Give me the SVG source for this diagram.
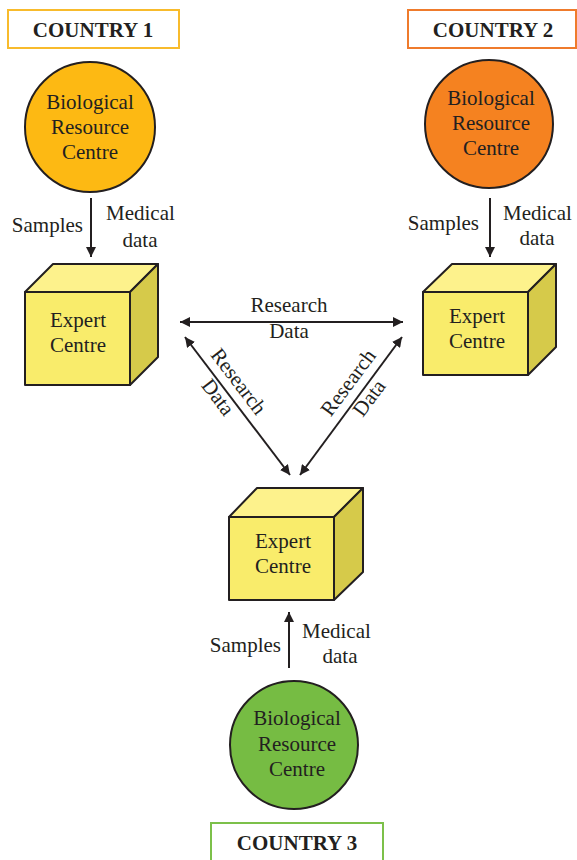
<svg xmlns="http://www.w3.org/2000/svg" width="577" height="860" viewBox="0 0 577 860">
<defs>
<marker id="ah" viewBox="0 0 10 10" refX="10" refY="5" markerWidth="10" markerHeight="10" markerUnits="userSpaceOnUse" orient="auto-start-reverse">
<path d="M0,0 L10,5 L0,10 z" fill="#231f20"/>
</marker>
<style>
text{font-family:"Liberation Serif","Times New Roman",serif;font-size:21px;fill:#231f20}
.c{text-anchor:middle}
.e{text-anchor:end}
.b{font-weight:bold;font-size:21px}
.circ{stroke:#231f20;stroke-width:2}
.front{fill:#f9ec6b;stroke:#231f20;stroke-width:2;stroke-linejoin:round}
.top{fill:#fdf28c;stroke:#231f20;stroke-width:2;stroke-linejoin:round}
.side{fill:#d6ca4a;stroke:#231f20;stroke-width:2;stroke-linejoin:round}
.lbl{fill:#fff;stroke-width:2}
.conn line{stroke:#231f20;stroke-width:2}
</style>
</defs>
<rect width="577" height="860" fill="#fff"/>

<g id="country1"><rect class="lbl" x="8" y="10" width="171" height="38" stroke="#f8bb2c"/><text class="c b" x="93" y="37">COUNTRY 1</text></g>
<g id="country2"><rect class="lbl" x="408" y="10" width="168" height="38" stroke="#ef7b2c"/><text class="c b" x="493" y="37">COUNTRY 2</text></g>
<g id="country3"><rect class="lbl" x="211" y="823" width="172" height="42" stroke="#7cc04a"/><text class="c b" x="297" y="850">COUNTRY 3</text></g>

<g id="brc1"><circle class="circ" cx="90" cy="127" r="65" fill="#fdb913"/>
<text class="c" x="90" y="109">Biological</text><text class="c" x="90" y="134">Resource</text><text class="c" x="90" y="159">Centre</text></g>
<g id="brc2"><circle class="circ" cx="489" cy="124" r="64" fill="#f58220"/>
<text class="c" x="491" y="105">Biological</text><text class="c" x="491" y="130">Resource</text><text class="c" x="491" y="155">Centre</text></g>
<g id="brc3"><circle class="circ" cx="294" cy="745" r="64" fill="#76bc43"/>
<text class="c" x="297" y="725">Biological</text><text class="c" x="297" y="751">Resource</text><text class="c" x="297" y="776">Centre</text></g>

<g id="ec1">
<path class="top" d="M25,292 L53,264 L158,264 L130,292 Z"/>
<path class="side" d="M130,292 L158,264 L158,357 L130,385 Z"/>
<rect class="front" x="25" y="292" width="105" height="93"/>
<text class="c" x="78" y="327">Expert</text><text class="c" x="78" y="352">Centre</text></g>
<g id="ec2">
<path class="top" d="M423,292 L452,264 L556,264 L528,292 Z"/>
<path class="side" d="M528,292 L556,264 L556,347 L528,375 Z"/>
<rect class="front" x="423" y="292" width="105" height="83"/>
<text class="c" x="477" y="323">Expert</text><text class="c" x="477" y="348">Centre</text></g>
<g id="ec3">
<path class="top" d="M229,517 L257,488 L363,488 L334,517 Z"/>
<path class="side" d="M334,517 L363,488 L363,572 L334,600 Z"/>
<rect class="front" x="229" y="517" width="105" height="83"/>
<text class="c" x="283" y="548">Expert</text><text class="c" x="283" y="573">Centre</text></g>

<g class="conn" id="connectors">
<line x1="91" y1="198" x2="91" y2="257" marker-end="url(#ah)"/>
<line x1="490" y1="198" x2="490" y2="257" marker-end="url(#ah)"/>
<line x1="289" y1="668" x2="289" y2="612" marker-end="url(#ah)"/>
<line x1="180" y1="322" x2="403" y2="322" marker-start="url(#ah)" marker-end="url(#ah)"/>
<line x1="185" y1="337" x2="290" y2="475" marker-start="url(#ah)" marker-end="url(#ah)"/>
<line x1="402" y1="337" x2="300" y2="475" marker-start="url(#ah)" marker-end="url(#ah)"/>
</g>

<g id="labels">
<text class="e" x="83" y="232">Samples</text>
<text x="106" y="220">Medical</text><text class="c" x="140" y="247">data</text>
<text class="e" x="479" y="230">Samples</text>
<text x="503" y="220">Medical</text><text class="c" x="537" y="245">data</text>
<text class="e" x="281" y="652">Samples</text>
<text x="302" y="638">Medical</text><text class="c" x="340" y="663">data</text>
<text class="c" x="289" y="312">Research</text><text class="c" x="289" y="338">Data</text>
<g transform="translate(226,391) rotate(52.7)"><text class="c" x="0" y="-9">Research</text><text class="c" x="0" y="17">Data</text></g>
<g transform="translate(361,392) rotate(-53.5)"><text class="c" x="0" y="-9">Research</text><text class="c" x="0" y="17">Data</text></g>
</g>
</svg>
